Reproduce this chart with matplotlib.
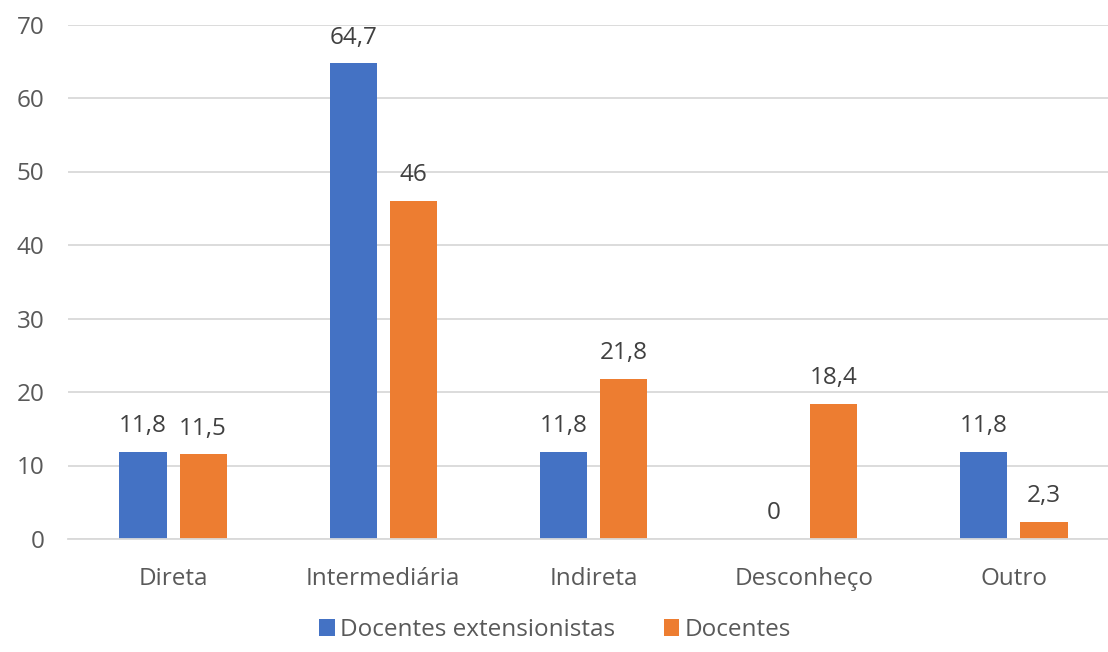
import matplotlib.pyplot as plt
import numpy as np

categorias = ["Direta", "Intermediária", "Indireta", "Desconheço", "Outro"]
extensionistas = [11.8, 64.7, 11.8, 0, 11.8]
docentes = [11.5, 46, 21.8, 18.4, 2.3]
series_nomes = ["Docentes extensionistas", "Docentes"]

plt.rcParams['font.family'] = ['Open Sans', 'DejaVu Sans']
fs = 17.5

fig = plt.figure(figsize=(11.08, 6.52), dpi=100)
# axes run a bit past the right edge, like the cropped original
ax = fig.add_axes([68 / 1108, 113 / 652, 1051 / 1108, 514.5 / 652])

x = np.arange(len(categorias))
w = 0.225
off = 0.143
azul = "#4472C4"
laranja = "#ED7D31"

b1 = ax.bar(x - off, extensionistas, w, color=azul, label=series_nomes[0])
b2 = ax.bar(x + off, docentes, w, color=laranja, label=series_nomes[1])

for bars, vals in ((b1, extensionistas), (b2, docentes)):
    for rect, v in zip(bars, vals):
        txt = f"{v:g}".replace(".", ",")
        ax.annotate(txt, (rect.get_x() + rect.get_width() / 2, v),
                    xytext=(0, 10), textcoords="offset points",
                    ha="center", va="bottom", fontsize=fs, color="#404040")

ax.set_xlim(-0.5, len(categorias) - 0.5)
ax.set_ylim(0, 70)
ax.set_yticks(range(0, 71, 10))
ax.set_xticks(x)
ax.set_xticklabels(categorias)

ax.grid(axis="y", color="#D9D9D9", linewidth=1.3)
ax.set_axisbelow(True)
for s in ("top", "right", "left"):
    ax.spines[s].set_visible(False)
ax.spines["bottom"].set_color("#D9D9D9")
ax.spines["bottom"].set_linewidth(1.3)

ax.tick_params(axis="both", length=0, labelsize=fs, labelcolor="#595959")
ax.tick_params(axis="x", pad=20)
ax.tick_params(axis="y", pad=17)

fig.legend(handles=[b1, b2], loc="center", bbox_to_anchor=(555 / 1108, 1 - 630 / 652),
           ncol=2, frameon=False, fontsize=fs, labelcolor="#595959",
           handlelength=0.65, handleheight=0.65, handletextpad=0.2, columnspacing=2.0)

plt.savefig("out.png", dpi=100)
plt.close()
